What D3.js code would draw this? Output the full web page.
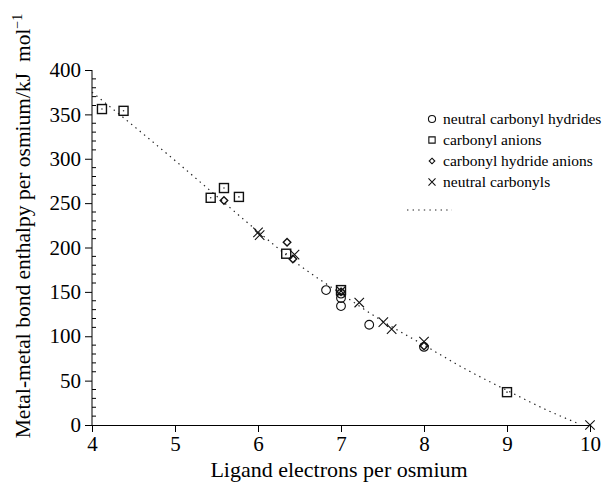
<!DOCTYPE html>
<html>
<head>
<meta charset="utf-8">
<script src="https://cdn.jsdelivr.net/npm/d3@7"></script>
<style>
  body { margin: 0; background: #fff; }
  svg text { font-family: "Liberation Serif", "Times New Roman", serif; fill: #000; }
</style>
</head>
<body>
<div id="chart"></div>
<script>
// series: [ligand electrons, enthalpy]
const neutralHydrides = [[6.82, 152], [7.0, 148], [7.0, 143], [7.0, 134], [7.34, 113], [8.0, 88]];
const carbonylAnions = [[4.12, 356], [4.38, 354], [5.43, 256], [5.59, 267], [5.77, 257], [6.34, 193], [7.0, 152], [9.0, 37]];
const hydrideAnions = [[5.59, 253], [6.35, 206], [6.42, 187], [7.0, 150], [8.0, 89]];
const neutralCarbonyls = [[6.0, 217], [6.02, 214], [6.44, 192], [7.0, 151], [7.22, 138], [7.51, 116], [7.61, 108], [8.0, 94], [10.0, 0]];

// dotted fit curve
const fitX = [4.0, 4.5, 5.0, 5.5, 6.0, 6.5, 7.0, 7.5, 8.0, 8.5, 9.0, 9.5, 9.85];
const fitY = [375, 337, 298, 258, 218, 180, 148, 117, 90, 63, 39, 16, 2];

const xTicks = [4, 5, 6, 7, 8, 9, 10];
const yTicks = [0, 50, 100, 150, 200, 250, 300, 350, 400];

const legendItems = ["neutral carbonyl hydrides", "carbonyl anions", "carbonyl hydride anions", "neutral carbonyls"];

const W = 608, H = 485;
const margin = {top: 70, right: 18, bottom: 60, left: 92};

const svg = d3.select("#chart").append("svg")
    .attr("width", W)
    .attr("height", H);

const x = d3.scaleLinear().domain([4, 10]).range([margin.left, W - margin.right]);
const y = d3.scaleLinear().domain([0, 400]).range([H - margin.bottom, margin.top]);

// x axis
const xAxis = svg.append("g")
    .attr("transform", "translate(0," + y(0) + ")")
    .call(d3.axisBottom(x).tickValues(xTicks).tickSize(7).tickPadding(4).tickFormat(d3.format("d")));
xAxis.select(".domain").attr("stroke", "#000").attr("stroke-width", 1);
xAxis.selectAll("text").style("font-size", "21px");

// y axis, minor ticks pointing inward
svg.append("g")
    .attr("transform", "translate(" + x(4) + ",0)")
    .selectAll("line")
    .data(d3.range(10, 400, 10).filter(d => d % 50 !== 0))
    .join("line")
    .attr("x1", 0).attr("x2", 4)
    .attr("y1", d => y(d)).attr("y2", d => y(d))
    .attr("stroke", "#000");

const yAxis = svg.append("g")
    .attr("transform", "translate(" + x(4) + ",0)")
    .call(d3.axisLeft(y).tickValues(yTicks).tickSize(7).tickPadding(4));
yAxis.select(".domain").attr("d", "M0," + y(0) + "V" + y(400)).attr("stroke", "#000");
yAxis.selectAll("text").style("font-size", "21px");

// axis titles
svg.append("text")
    .attr("x", (x(4) + x(10)) / 2 - 2)
    .attr("y", 477)
    .attr("text-anchor", "middle")
    .style("font-size", "22px")
    .text("Ligand electrons per osmium");

const yTitle = svg.append("text")
    .attr("transform", "translate(30," + 226 + ") rotate(-90)")
    .attr("text-anchor", "middle")
    .style("font-size", "21.5px");
yTitle.append("tspan").text("Metal-metal bond enthalpy per osmium/kJ\u00a0\u00a0mol");
yTitle.append("tspan").attr("dy", -8).style("font-size", "14px").text("\u22121");

// fit curve
const fitLine = d3.line()
    .x(d => x(d[0]))
    .y(d => y(d[1]))
    .curve(d3.curveMonotoneX);

svg.append("path")
    .datum(fitX.map((v, i) => [v, fitY[i]]))
    .attr("d", fitLine)
    .attr("fill", "none")
    .attr("stroke", "#222")
    .attr("stroke-width", 1.2)
    .attr("stroke-dasharray", "1.4,4.2");

// markers
function drawSquares(g, data) {
    g.selectAll("rect").data(data).join("rect")
        .attr("x", d => x(d[0]) - 4.5).attr("y", d => y(d[1]) - 4.5)
        .attr("width", 9).attr("height", 9)
        .attr("fill", "none").attr("stroke", "#111").attr("stroke-width", 1.4);
    g.selectAll("circle").data(data).join("circle")
        .attr("cx", d => x(d[0])).attr("cy", d => y(d[1]))
        .attr("r", 0.8).attr("fill", "#333");
}

const sym = (type, size) => d3.symbol().type(type).size(size);

const gCirc = svg.append("g");
gCirc.selectAll("path").data(neutralHydrides).join("path")
    .attr("transform", d => "translate(" + x(d[0]) + "," + y(d[1]) + ")")
    .attr("d", sym(d3.symbolCircle, 60))
    .attr("fill", "none").attr("stroke", "#111").attr("stroke-width", 1.1);

drawSquares(svg.append("g"), carbonylAnions);

const gDia = svg.append("g");
gDia.selectAll("path").data(hydrideAnions).join("path")
    .attr("transform", d => "translate(" + x(d[0]) + "," + y(d[1]) + ")")
    .attr("d", sym(d3.symbolDiamond2, 36))
    .attr("fill", "none").attr("stroke", "#111").attr("stroke-width", 1.4);

const gX = svg.append("g");
gX.selectAll("path").data(neutralCarbonyls).join("path")
    .attr("transform", d => "translate(" + x(d[0]) + "," + y(d[1]) + ")")
    .attr("d", sym(d3.symbolTimes, 60))
    .attr("fill", "none").attr("stroke", "#111").attr("stroke-width", 1.1);

// legend
const legend = svg.append("g").attr("transform", "translate(432,0)");
const legendY = [119, 140, 161, 182];
const legendSyms = [d3.symbolCircle, d3.symbolSquare, d3.symbolDiamond2, d3.symbolTimes];
const legendSizes = [40, 40, 20, 34];

legend.selectAll("path.sym").data(legendItems).join("path")
    .attr("class", "sym")
    .attr("transform", (d, i) => "translate(0," + legendY[i] + ")")
    .attr("d", (d, i) => sym(legendSyms[i], legendSizes[i])())
    .attr("fill", "none").attr("stroke", "#111").attr("stroke-width", 1.1);

legend.selectAll("text").data(legendItems).join("text")
    .attr("x", 11)
    .attr("y", (d, i) => legendY[i] + 5)
    .style("font-size", "15.5px")
    .text(d => d);

legend.append("line")
    .attr("x1", -25).attr("x2", 20)
    .attr("y1", 210).attr("y2", 210)
    .attr("stroke", "#222").attr("stroke-width", 1.2)
    .attr("stroke-dasharray", "1.4,4.2");
</script>
</body>
</html>
